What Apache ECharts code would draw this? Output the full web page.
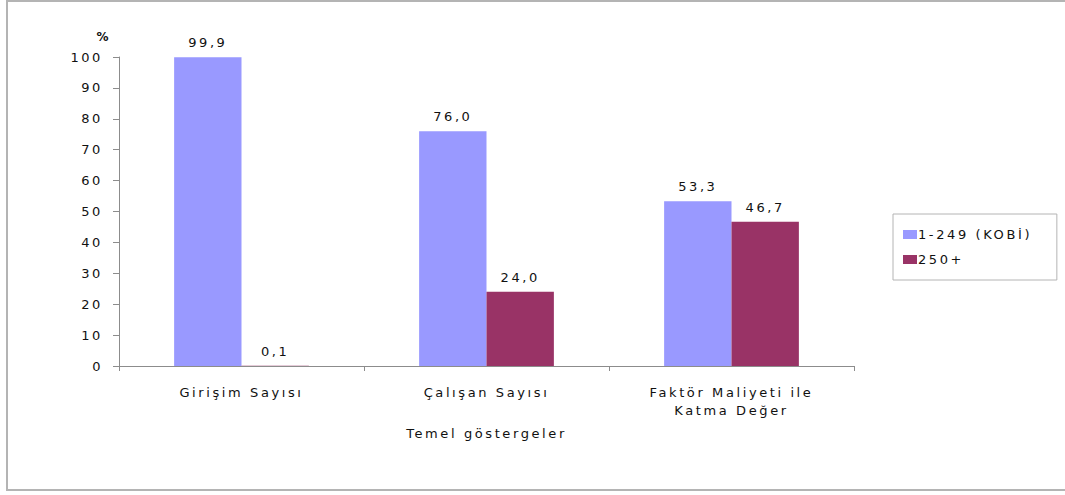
<!DOCTYPE html>
<html>
<head>
<meta charset="utf-8">
<script src="https://cdn.jsdelivr.net/npm/echarts@6/dist/echarts.min.js"></script>
<style>
  html, body { margin: 0; padding: 0; background: #ffffff; }
  #frame {
    position: absolute; left: 6px; top: 0px; width: 1065px; height: 491px;
    border-top: 2px solid #b4b4b4; border-left: 2px solid #b4b4b4; border-bottom: 2px solid #b4b4b4;
    box-sizing: border-box;
  }
  #chart { position: absolute; left: 0; top: 0; width: 1065px; height: 495px; }
  /* wide, loosely tracked lettering */
  #chart svg text { letter-spacing: 2.6px; }
</style>
</head>
<body>
<div id="frame"></div>
<div id="chart"></div>
<script>
// Göstergeler ve ölçek grupları
const categories = ['Girişim Sayısı', 'Çalışan Sayısı', 'Faktör Maliyeti ile\nKatma Değer'];
const kobiValues = [99.9, 76.0, 53.3];
const buyukValues = [0.1, 24.0, 46.7];
const seriesNames = ['1-249 (KOBİ)', '250+'];
const yTicks = [0, 10, 20, 30, 40, 50, 60, 70, 80, 90, 100];

const FONT = 'DejaVu Sans';
const TEXT = '#111111';
const AXIS = '#8c8c8c';

const fmt = v => Number(v).toFixed(1).replace('.', ',');

const chart = echarts.init(document.getElementById('chart'), null, { renderer: 'svg' });

const labelStyle = {
  show: true,
  position: 'top',
  distance: 8,
  color: TEXT,
  fontFamily: FONT,
  fontSize: 13,
  formatter: p => fmt(p.value)
};

chart.setOption({
  animation: false,
  textStyle: { fontFamily: FONT },
  grid: { left: 119, right: 211, top: 57, bottom: 129, containLabel: false },
  legend: {
    orient: 'vertical',
    left: 893,
    top: 214,
    padding: [14, 56, 14, 10],
    itemGap: 12,
    itemWidth: 14,
    itemHeight: 9,
    borderColor: '#b4b4b4',
    borderWidth: 1,
    icon: 'rect',
    textStyle: { fontFamily: FONT, fontSize: 13, color: TEXT, padding: [0, 0, 0, -4] },
    data: seriesNames
  },
  xAxis: {
    type: 'category',
    data: categories,
    name: 'Temel göstergeler',
    nameLocation: 'middle',
    nameGap: 61,
    nameTextStyle: { fontFamily: FONT, fontSize: 13, color: TEXT },
    axisLine: { lineStyle: { color: AXIS, width: 1 } },
    axisTick: { show: true, length: 5, lineStyle: { color: AXIS } },
    axisLabel: { fontFamily: FONT, fontSize: 13, color: TEXT, margin: 17, lineHeight: 18 }
  },
  yAxis: {
    type: 'value',
    min: yTicks[0],
    max: yTicks[yTicks.length - 1],
    interval: 10,
    name: '%',
    nameLocation: 'end',
    nameGap: 14,
    nameTextStyle: { fontFamily: FONT, fontSize: 12, fontWeight: 'bold', color: TEXT, align: 'right', padding: [0, 8, 0, 0] },
    axisLine: { show: true, lineStyle: { color: AXIS, width: 1 } },
    axisTick: { show: true, length: 6, lineStyle: { color: AXIS } },
    splitLine: { show: false },
    axisLabel: { fontFamily: FONT, fontSize: 13, color: TEXT, margin: 16 }
  },
  series: [
    {
      name: seriesNames[0],
      type: 'bar',
      data: kobiValues,
      barGap: '0%',
      barCategoryGap: '45%',
      itemStyle: { color: '#9999ff' },
      label: labelStyle
    },
    {
      name: seriesNames[1],
      type: 'bar',
      data: buyukValues,
      itemStyle: { color: '#993366' },
      label: labelStyle
    }
  ]
});
</script>
</body>
</html>
